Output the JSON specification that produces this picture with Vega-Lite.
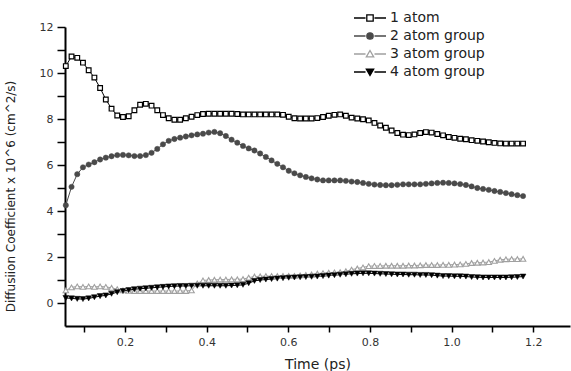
{
  "$schema": "https://vega.github.io/schema/vega-lite/v6.json",
  "width": 505,
  "height": 299,
  "autosize": {"type": "none"},
  "padding": {"left": 65, "top": 27, "right": 1, "bottom": 45},
  "background": "white",
  "config": {"view": {"stroke": null}},
  "data": {"values": [
    {"t":0.055,"s":"1 atom","D":10.3},{"t":0.069,"s":"1 atom","D":10.72},{"t":0.083,"s":"1 atom","D":10.66},{"t":0.097,"s":"1 atom","D":10.45},{"t":0.111,"s":"1 atom","D":10.12},{"t":0.125,"s":"1 atom","D":9.8},{"t":0.139,"s":"1 atom","D":9.35},{"t":0.153,"s":"1 atom","D":8.85},{"t":0.167,"s":"1 atom","D":8.45},{"t":0.181,"s":"1 atom","D":8.15},{"t":0.195,"s":"1 atom","D":8.09},{"t":0.209,"s":"1 atom","D":8.12},{"t":0.223,"s":"1 atom","D":8.38},{"t":0.237,"s":"1 atom","D":8.62},{"t":0.251,"s":"1 atom","D":8.66},{"t":0.265,"s":"1 atom","D":8.58},{"t":0.279,"s":"1 atom","D":8.38},{"t":0.293,"s":"1 atom","D":8.17},{"t":0.307,"s":"1 atom","D":8.03},{"t":0.321,"s":"1 atom","D":7.97},{"t":0.335,"s":"1 atom","D":7.97},{"t":0.349,"s":"1 atom","D":8.03},{"t":0.363,"s":"1 atom","D":8.1},{"t":0.377,"s":"1 atom","D":8.17},{"t":0.391,"s":"1 atom","D":8.22},{"t":0.405,"s":"1 atom","D":8.23},{"t":0.419,"s":"1 atom","D":8.23},{"t":0.433,"s":"1 atom","D":8.23},{"t":0.447,"s":"1 atom","D":8.23},{"t":0.461,"s":"1 atom","D":8.23},{"t":0.475,"s":"1 atom","D":8.22},{"t":0.489,"s":"1 atom","D":8.2},{"t":0.503,"s":"1 atom","D":8.2},{"t":0.517,"s":"1 atom","D":8.2},{"t":0.531,"s":"1 atom","D":8.2},{"t":0.545,"s":"1 atom","D":8.2},{"t":0.559,"s":"1 atom","D":8.2},{"t":0.573,"s":"1 atom","D":8.2},{"t":0.587,"s":"1 atom","D":8.18},{"t":0.601,"s":"1 atom","D":8.1},{"t":0.615,"s":"1 atom","D":8.03},{"t":0.629,"s":"1 atom","D":8.02},{"t":0.643,"s":"1 atom","D":8.02},{"t":0.657,"s":"1 atom","D":8.02},{"t":0.671,"s":"1 atom","D":8.04},{"t":0.685,"s":"1 atom","D":8.09},{"t":0.699,"s":"1 atom","D":8.14},{"t":0.713,"s":"1 atom","D":8.18},{"t":0.727,"s":"1 atom","D":8.2},{"t":0.741,"s":"1 atom","D":8.14},{"t":0.755,"s":"1 atom","D":8.06},{"t":0.769,"s":"1 atom","D":8.02},{"t":0.783,"s":"1 atom","D":7.99},{"t":0.797,"s":"1 atom","D":7.94},{"t":0.811,"s":"1 atom","D":7.83},{"t":0.825,"s":"1 atom","D":7.72},{"t":0.839,"s":"1 atom","D":7.62},{"t":0.853,"s":"1 atom","D":7.5},{"t":0.867,"s":"1 atom","D":7.39},{"t":0.881,"s":"1 atom","D":7.32},{"t":0.895,"s":"1 atom","D":7.3},{"t":0.909,"s":"1 atom","D":7.33},{"t":0.923,"s":"1 atom","D":7.39},{"t":0.937,"s":"1 atom","D":7.43},{"t":0.951,"s":"1 atom","D":7.41},{"t":0.965,"s":"1 atom","D":7.35},{"t":0.979,"s":"1 atom","D":7.29},{"t":0.993,"s":"1 atom","D":7.22},{"t":1.007,"s":"1 atom","D":7.18},{"t":1.021,"s":"1 atom","D":7.14},{"t":1.035,"s":"1 atom","D":7.12},{"t":1.049,"s":"1 atom","D":7.08},{"t":1.063,"s":"1 atom","D":7.05},{"t":1.077,"s":"1 atom","D":7.02},{"t":1.091,"s":"1 atom","D":6.99},{"t":1.105,"s":"1 atom","D":6.96},{"t":1.119,"s":"1 atom","D":6.94},{"t":1.133,"s":"1 atom","D":6.93},{"t":1.147,"s":"1 atom","D":6.93},{"t":1.161,"s":"1 atom","D":6.93},{"t":1.175,"s":"1 atom","D":6.93},

    {"t":0.055,"s":"2 atom group","D":4.25},{"t":0.069,"s":"2 atom group","D":5.05},{"t":0.083,"s":"2 atom group","D":5.6},{"t":0.097,"s":"2 atom group","D":5.9},{"t":0.111,"s":"2 atom group","D":6.02},{"t":0.125,"s":"2 atom group","D":6.12},{"t":0.139,"s":"2 atom group","D":6.24},{"t":0.153,"s":"2 atom group","D":6.32},{"t":0.167,"s":"2 atom group","D":6.38},{"t":0.181,"s":"2 atom group","D":6.43},{"t":0.195,"s":"2 atom group","D":6.44},{"t":0.209,"s":"2 atom group","D":6.42},{"t":0.223,"s":"2 atom group","D":6.39},{"t":0.237,"s":"2 atom group","D":6.39},{"t":0.251,"s":"2 atom group","D":6.43},{"t":0.265,"s":"2 atom group","D":6.53},{"t":0.279,"s":"2 atom group","D":6.7},{"t":0.293,"s":"2 atom group","D":6.9},{"t":0.307,"s":"2 atom group","D":7.05},{"t":0.321,"s":"2 atom group","D":7.13},{"t":0.335,"s":"2 atom group","D":7.19},{"t":0.349,"s":"2 atom group","D":7.24},{"t":0.363,"s":"2 atom group","D":7.29},{"t":0.377,"s":"2 atom group","D":7.33},{"t":0.391,"s":"2 atom group","D":7.36},{"t":0.405,"s":"2 atom group","D":7.41},{"t":0.419,"s":"2 atom group","D":7.44},{"t":0.433,"s":"2 atom group","D":7.38},{"t":0.447,"s":"2 atom group","D":7.26},{"t":0.461,"s":"2 atom group","D":7.1},{"t":0.475,"s":"2 atom group","D":6.97},{"t":0.489,"s":"2 atom group","D":6.83},{"t":0.503,"s":"2 atom group","D":6.72},{"t":0.517,"s":"2 atom group","D":6.63},{"t":0.531,"s":"2 atom group","D":6.5},{"t":0.545,"s":"2 atom group","D":6.35},{"t":0.559,"s":"2 atom group","D":6.2},{"t":0.573,"s":"2 atom group","D":6.05},{"t":0.587,"s":"2 atom group","D":5.9},{"t":0.601,"s":"2 atom group","D":5.75},{"t":0.615,"s":"2 atom group","D":5.64},{"t":0.629,"s":"2 atom group","D":5.55},{"t":0.643,"s":"2 atom group","D":5.48},{"t":0.657,"s":"2 atom group","D":5.42},{"t":0.671,"s":"2 atom group","D":5.37},{"t":0.685,"s":"2 atom group","D":5.33},{"t":0.699,"s":"2 atom group","D":5.33},{"t":0.713,"s":"2 atom group","D":5.33},{"t":0.727,"s":"2 atom group","D":5.33},{"t":0.741,"s":"2 atom group","D":5.31},{"t":0.755,"s":"2 atom group","D":5.28},{"t":0.769,"s":"2 atom group","D":5.26},{"t":0.783,"s":"2 atom group","D":5.22},{"t":0.797,"s":"2 atom group","D":5.18},{"t":0.811,"s":"2 atom group","D":5.15},{"t":0.825,"s":"2 atom group","D":5.13},{"t":0.839,"s":"2 atom group","D":5.12},{"t":0.853,"s":"2 atom group","D":5.12},{"t":0.867,"s":"2 atom group","D":5.14},{"t":0.881,"s":"2 atom group","D":5.16},{"t":0.895,"s":"2 atom group","D":5.16},{"t":0.909,"s":"2 atom group","D":5.16},{"t":0.923,"s":"2 atom group","D":5.16},{"t":0.937,"s":"2 atom group","D":5.18},{"t":0.951,"s":"2 atom group","D":5.2},{"t":0.965,"s":"2 atom group","D":5.22},{"t":0.979,"s":"2 atom group","D":5.23},{"t":0.993,"s":"2 atom group","D":5.22},{"t":1.007,"s":"2 atom group","D":5.2},{"t":1.021,"s":"2 atom group","D":5.17},{"t":1.035,"s":"2 atom group","D":5.13},{"t":1.049,"s":"2 atom group","D":5.07},{"t":1.063,"s":"2 atom group","D":5.0},{"t":1.077,"s":"2 atom group","D":4.96},{"t":1.091,"s":"2 atom group","D":4.92},{"t":1.105,"s":"2 atom group","D":4.87},{"t":1.119,"s":"2 atom group","D":4.83},{"t":1.133,"s":"2 atom group","D":4.78},{"t":1.147,"s":"2 atom group","D":4.73},{"t":1.161,"s":"2 atom group","D":4.69},{"t":1.175,"s":"2 atom group","D":4.65},

    {"t":0.055,"s":"3 atom group","D":0.55},{"t":0.069,"s":"3 atom group","D":0.68},{"t":0.083,"s":"3 atom group","D":0.72},{"t":0.097,"s":"3 atom group","D":0.7},{"t":0.111,"s":"3 atom group","D":0.72},{"t":0.125,"s":"3 atom group","D":0.7},{"t":0.139,"s":"3 atom group","D":0.72},{"t":0.153,"s":"3 atom group","D":0.7},{"t":0.167,"s":"3 atom group","D":0.66},{"t":0.181,"s":"3 atom group","D":0.6},{"t":0.195,"s":"3 atom group","D":0.55},{"t":0.209,"s":"3 atom group","D":0.53},{"t":0.223,"s":"3 atom group","D":0.52},{"t":0.237,"s":"3 atom group","D":0.52},{"t":0.251,"s":"3 atom group","D":0.52},{"t":0.265,"s":"3 atom group","D":0.52},{"t":0.279,"s":"3 atom group","D":0.52},{"t":0.293,"s":"3 atom group","D":0.52},{"t":0.307,"s":"3 atom group","D":0.52},{"t":0.321,"s":"3 atom group","D":0.52},{"t":0.335,"s":"3 atom group","D":0.52},{"t":0.349,"s":"3 atom group","D":0.52},{"t":0.363,"s":"3 atom group","D":0.55},{"t":0.377,"s":"3 atom group","D":0.85},{"t":0.391,"s":"3 atom group","D":0.98},{"t":0.405,"s":"3 atom group","D":1.0},{"t":0.419,"s":"3 atom group","D":1.01},{"t":0.433,"s":"3 atom group","D":1.02},{"t":0.447,"s":"3 atom group","D":1.02},{"t":0.461,"s":"3 atom group","D":1.03},{"t":0.475,"s":"3 atom group","D":1.03},{"t":0.489,"s":"3 atom group","D":1.04},{"t":0.503,"s":"3 atom group","D":1.1},{"t":0.517,"s":"3 atom group","D":1.15},{"t":0.531,"s":"3 atom group","D":1.16},{"t":0.545,"s":"3 atom group","D":1.17},{"t":0.559,"s":"3 atom group","D":1.17},{"t":0.573,"s":"3 atom group","D":1.17},{"t":0.587,"s":"3 atom group","D":1.18},{"t":0.601,"s":"3 atom group","D":1.18},{"t":0.615,"s":"3 atom group","D":1.18},{"t":0.629,"s":"3 atom group","D":1.2},{"t":0.643,"s":"3 atom group","D":1.22},{"t":0.657,"s":"3 atom group","D":1.24},{"t":0.671,"s":"3 atom group","D":1.28},{"t":0.685,"s":"3 atom group","D":1.3},{"t":0.699,"s":"3 atom group","D":1.32},{"t":0.713,"s":"3 atom group","D":1.33},{"t":0.727,"s":"3 atom group","D":1.34},{"t":0.741,"s":"3 atom group","D":1.38},{"t":0.755,"s":"3 atom group","D":1.45},{"t":0.769,"s":"3 atom group","D":1.5},{"t":0.783,"s":"3 atom group","D":1.55},{"t":0.797,"s":"3 atom group","D":1.6},{"t":0.811,"s":"3 atom group","D":1.61},{"t":0.825,"s":"3 atom group","D":1.61},{"t":0.839,"s":"3 atom group","D":1.62},{"t":0.853,"s":"3 atom group","D":1.62},{"t":0.867,"s":"3 atom group","D":1.62},{"t":0.881,"s":"3 atom group","D":1.62},{"t":0.895,"s":"3 atom group","D":1.63},{"t":0.909,"s":"3 atom group","D":1.63},{"t":0.923,"s":"3 atom group","D":1.64},{"t":0.937,"s":"3 atom group","D":1.65},{"t":0.951,"s":"3 atom group","D":1.65},{"t":0.965,"s":"3 atom group","D":1.65},{"t":0.979,"s":"3 atom group","D":1.66},{"t":0.993,"s":"3 atom group","D":1.66},{"t":1.007,"s":"3 atom group","D":1.67},{"t":1.021,"s":"3 atom group","D":1.68},{"t":1.035,"s":"3 atom group","D":1.7},{"t":1.049,"s":"3 atom group","D":1.74},{"t":1.063,"s":"3 atom group","D":1.75},{"t":1.077,"s":"3 atom group","D":1.76},{"t":1.091,"s":"3 atom group","D":1.78},{"t":1.105,"s":"3 atom group","D":1.83},{"t":1.119,"s":"3 atom group","D":1.88},{"t":1.133,"s":"3 atom group","D":1.9},{"t":1.147,"s":"3 atom group","D":1.91},{"t":1.161,"s":"3 atom group","D":1.91},{"t":1.175,"s":"3 atom group","D":1.92},

    {"t":0.055,"s":"4 atom group","D":0.22},{"t":0.069,"s":"4 atom group","D":0.2},{"t":0.083,"s":"4 atom group","D":0.18},{"t":0.097,"s":"4 atom group","D":0.17},{"t":0.111,"s":"4 atom group","D":0.2},{"t":0.125,"s":"4 atom group","D":0.25},{"t":0.139,"s":"4 atom group","D":0.3},{"t":0.153,"s":"4 atom group","D":0.33},{"t":0.167,"s":"4 atom group","D":0.4},{"t":0.181,"s":"4 atom group","D":0.47},{"t":0.195,"s":"4 atom group","D":0.52},{"t":0.209,"s":"4 atom group","D":0.56},{"t":0.223,"s":"4 atom group","D":0.6},{"t":0.237,"s":"4 atom group","D":0.62},{"t":0.251,"s":"4 atom group","D":0.64},{"t":0.265,"s":"4 atom group","D":0.66},{"t":0.279,"s":"4 atom group","D":0.68},{"t":0.293,"s":"4 atom group","D":0.7},{"t":0.307,"s":"4 atom group","D":0.72},{"t":0.321,"s":"4 atom group","D":0.73},{"t":0.335,"s":"4 atom group","D":0.74},{"t":0.349,"s":"4 atom group","D":0.74},{"t":0.363,"s":"4 atom group","D":0.75},{"t":0.377,"s":"4 atom group","D":0.75},{"t":0.391,"s":"4 atom group","D":0.75},{"t":0.405,"s":"4 atom group","D":0.75},{"t":0.419,"s":"4 atom group","D":0.75},{"t":0.433,"s":"4 atom group","D":0.75},{"t":0.447,"s":"4 atom group","D":0.75},{"t":0.461,"s":"4 atom group","D":0.76},{"t":0.475,"s":"4 atom group","D":0.77},{"t":0.489,"s":"4 atom group","D":0.79},{"t":0.503,"s":"4 atom group","D":0.86},{"t":0.517,"s":"4 atom group","D":0.96},{"t":0.531,"s":"4 atom group","D":1.0},{"t":0.545,"s":"4 atom group","D":1.02},{"t":0.559,"s":"4 atom group","D":1.04},{"t":0.573,"s":"4 atom group","D":1.06},{"t":0.587,"s":"4 atom group","D":1.08},{"t":0.601,"s":"4 atom group","D":1.1},{"t":0.615,"s":"4 atom group","D":1.11},{"t":0.629,"s":"4 atom group","D":1.12},{"t":0.643,"s":"4 atom group","D":1.13},{"t":0.657,"s":"4 atom group","D":1.14},{"t":0.671,"s":"4 atom group","D":1.15},{"t":0.685,"s":"4 atom group","D":1.17},{"t":0.699,"s":"4 atom group","D":1.19},{"t":0.713,"s":"4 atom group","D":1.21},{"t":0.727,"s":"4 atom group","D":1.23},{"t":0.741,"s":"4 atom group","D":1.25},{"t":0.755,"s":"4 atom group","D":1.27},{"t":0.769,"s":"4 atom group","D":1.28},{"t":0.783,"s":"4 atom group","D":1.29},{"t":0.797,"s":"4 atom group","D":1.29},{"t":0.811,"s":"4 atom group","D":1.28},{"t":0.825,"s":"4 atom group","D":1.27},{"t":0.839,"s":"4 atom group","D":1.26},{"t":0.853,"s":"4 atom group","D":1.25},{"t":0.867,"s":"4 atom group","D":1.24},{"t":0.881,"s":"4 atom group","D":1.24},{"t":0.895,"s":"4 atom group","D":1.23},{"t":0.909,"s":"4 atom group","D":1.23},{"t":0.923,"s":"4 atom group","D":1.22},{"t":0.937,"s":"4 atom group","D":1.22},{"t":0.951,"s":"4 atom group","D":1.21},{"t":0.965,"s":"4 atom group","D":1.19},{"t":0.979,"s":"4 atom group","D":1.17},{"t":0.993,"s":"4 atom group","D":1.17},{"t":1.007,"s":"4 atom group","D":1.16},{"t":1.021,"s":"4 atom group","D":1.16},{"t":1.035,"s":"4 atom group","D":1.15},{"t":1.049,"s":"4 atom group","D":1.13},{"t":1.063,"s":"4 atom group","D":1.12},{"t":1.077,"s":"4 atom group","D":1.11},{"t":1.091,"s":"4 atom group","D":1.11},{"t":1.105,"s":"4 atom group","D":1.11},{"t":1.119,"s":"4 atom group","D":1.11},{"t":1.133,"s":"4 atom group","D":1.11},{"t":1.147,"s":"4 atom group","D":1.12},{"t":1.161,"s":"4 atom group","D":1.13},{"t":1.175,"s":"4 atom group","D":1.15}
  ]},
  "encoding": {
    "x": {"field": "t", "type": "quantitative",
      "scale": {"domain": [0.053, 1.29], "nice": false, "zero": false},
      "axis": {"title": "Time (ps)", "grid": false,
        "values": [0.1,0.2,0.3,0.4,0.5,0.6,0.7,0.8,0.9,1.0,1.1,1.2],
        "labelExpr": "round(datum.value*10)%2==0 ? format(datum.value,'.1f') : ''",
        "domainColor": "black", "domainWidth": 2, "tickColor": "black", "tickWidth": 1.5, "tickSize": 6,
        "labelFont": "DejaVu Sans", "labelFontSize": 11, "labelColor": "#333", "labelPadding": 4, "labelFlush": false,
        "titleFont": "DejaVu Sans", "titleFontSize": 14, "titleFontWeight": "normal", "titleColor": "#222", "titlePadding": 10}},
    "y": {"field": "D", "type": "quantitative",
      "scale": {"domain": [-1, 12], "nice": false, "zero": false},
      "axis": {"title": "Diffusiion Coefficient x 10^6 (cm^2/s)", "grid": false,
        "values": [0,1,2,3,4,5,6,7,8,9,10,11,12],
        "labelExpr": "datum.value%2==0 ? datum.label : ''",
        "domainColor": "black", "domainWidth": 2, "tickColor": "black", "tickWidth": 1.5, "tickSize": 8,
        "labelFont": "DejaVu Sans", "labelFontSize": 11, "labelColor": "#333", "labelPadding": 4,
        "titleFont": "DejaVu Sans", "titleFontSize": 12, "titleFontWeight": "normal", "titleColor": "#222",
        "titleX": -48, "titleY": 169}}
  },
  "layer": [
    {"transform": [{"filter": "datum.s == '1 atom'"}], "mark": {"type": "line", "strokeWidth": 1, "color": "black"}},
    {"transform": [{"filter": "datum.s == '2 atom group'"}], "mark": {"type": "line", "strokeWidth": 1, "color": "#4a4a4a"}},
    {"transform": [{"filter": "datum.s == '3 atom group'"}], "mark": {"type": "line", "strokeWidth": 1, "color": "#a0a0a0"}},
    {"transform": [{"filter": "datum.s == '4 atom group'"}], "mark": {"type": "line", "strokeWidth": 1, "color": "black"}},
    {"transform": [{"filter": "datum.s == '1 atom'"}],
     "mark": {"type": "point", "shape": "square", "size": 22, "fill": "white", "stroke": "black", "strokeWidth": 1.2, "opacity": 1}},
    {"transform": [{"filter": "datum.s == '2 atom group'"}],
     "mark": {"type": "point", "shape": "circle", "size": 28, "filled": true, "fill": "#4a4a4a", "stroke": "#4a4a4a", "strokeWidth": 0.5, "opacity": 1}},
    {"transform": [{"filter": "datum.s == '3 atom group'"}],
     "mark": {"type": "point", "shape": "triangle-up", "size": 30, "fill": "white", "stroke": "#a0a0a0", "strokeWidth": 1.1, "opacity": 1}},
    {"transform": [{"filter": "datum.s == '4 atom group'"}],
     "mark": {"type": "point", "shape": "triangle-down", "size": 34, "filled": true, "fill": "black", "stroke": "black", "strokeWidth": 0.5, "opacity": 1}},
    {"transform": [{"filter": "datum.t < 0"}],
     "mark": {"type": "point", "opacity": 1},
     "encoding": {
       "shape": {"field": "s", "type": "nominal",
         "scale": {"domain": ["1 atom","2 atom group","3 atom group","4 atom group"],
           "range": [
             "M-1,0H0.44M1.56,0H3M0.6,-0.4H1.4V0.4H0.6Z",
             "M-1,0H0.44M1.56,0H3M0.6,0A0.4,0.4 0 1,0 1.4,0A0.4,0.4 0 1,0 0.6,0Z",
             "M-1,0H0.44M1.56,0H3M1,-0.44L1.46,0.36H0.54Z",
             "M-1,0H0.44M1.56,0H3M0.54,-0.36H1.46L1,0.44Z"]},
         "legend": {"orient": "none", "legendX": 288, "legendY": -18, "title": null,
           "symbolSize": 256, "symbolStrokeWidth": 1.3, "symbolOpacity": 1,
           "labelFont": "DejaVu Sans", "labelFontSize": 14, "labelColor": "#222", "labelOffset": 19,
           "rowPadding": 2, "padding": 0}},
       "stroke": {"field": "s", "type": "nominal",
         "scale": {"domain": ["1 atom","2 atom group","3 atom group","4 atom group"], "range": ["black","#4a4a4a","#a0a0a0","black"]}},
       "fill": {"field": "s", "type": "nominal",
         "scale": {"domain": ["1 atom","2 atom group","3 atom group","4 atom group"], "range": ["white","#4a4a4a","white","black"]}}
     }}
  ]
}
